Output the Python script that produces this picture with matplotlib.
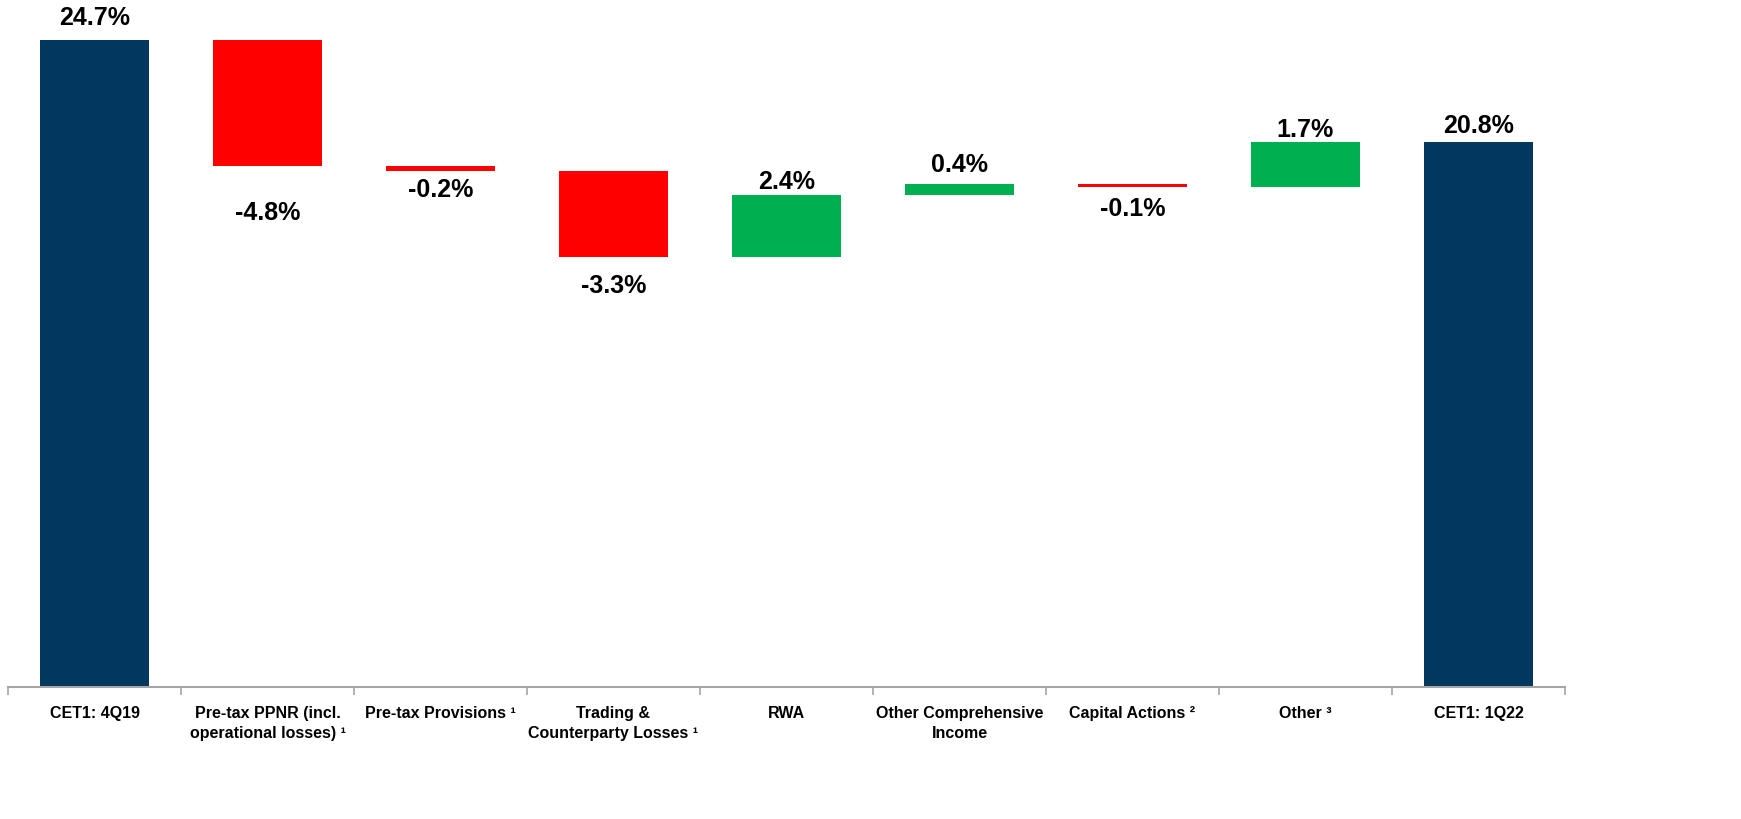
import matplotlib
matplotlib.use('Agg')
import matplotlib.pyplot as plt
import numpy as np

categories = ['CET1: 4Q19', 'Pre-tax PPNR (incl.\noperational losses) \u00b9', 'Pre-tax Provisions \u00b9',
              'Trading &\nCounterparty Losses \u00b9', 'RWA', 'Other Comprehensive\nIncome',
              'Capital Actions \u00b2', 'Other \u00b3', 'CET1: 1Q22']
values = [24.7, -4.8, -0.2, -3.3, 2.4, 0.4, -0.1, 1.7, 20.8]
is_total = [True, False, False, False, False, False, False, False, True]
labels = ['24.7%', '-4.8%', '-0.2%', '-3.3%', '2.4%', '0.4%', '-0.1%', '1.7%', '20.8%']

# distance from bar edge to label centre, in pixels (style only)
label_gap = [23, 46, 18, 28, 14, 20, 21, 13, 17]

plt.rcParams['font.family'] = ['Liberation Sans', 'DejaVu Sans']

navy = '#02375F'
red = '#FF0000'
green = '#00B050'

fig = plt.figure(figsize=(17.41, 8.2), dpi=100)
ax = fig.add_axes([8/1741, 1-688/820, (1565-8)/1741, 688/820])

x = np.arange(len(categories))
running = 0.0
for i, v in enumerate(values):
	if is_total[i]:
		bottom, height, col = 0, v, navy
		running = v
	else:
		bottom = running + min(v, 0)
		height = abs(v)
		col = green if v > 0 else red
		running += v
	ax.bar(x[i], height, bottom=bottom, width=0.635, color=col, edgecolor='none')
	gap = label_gap[i] * 0.72
	if v < 0 and not is_total[i]:
		ax.annotate(labels[i], (x[i], bottom), xytext=(0, -gap), textcoords='offset points',
			ha='center', va='center', fontsize=18, fontweight='bold')
	else:
		ax.annotate(labels[i], (x[i], bottom + height), xytext=(0, gap), textcoords='offset points',
			ha='center', va='center', fontsize=18, fontweight='bold')

ax.set_xlim(-0.5, len(categories) - 0.5)
ax.set_ylim(0, 26.27)
ax.set_yticks([])
for s in ['top', 'right', 'left']:
	ax.spines[s].set_visible(False)
ax.spines['bottom'].set_color('#A6A6A6')
ax.spines['bottom'].set_linewidth(1.5)

ax.set_xticks(x)
ax.set_xticklabels(categories, fontsize=11.5, fontweight='bold', linespacing=1.45)
ax.tick_params(axis='x', which='major', length=0, pad=13)
ax.set_xticks(np.arange(-0.5, len(categories)), minor=True)
ax.tick_params(axis='x', which='minor', length=6, width=1.2, color='#A6A6A6', direction='out')

fig.savefig('out.png', dpi=100)
